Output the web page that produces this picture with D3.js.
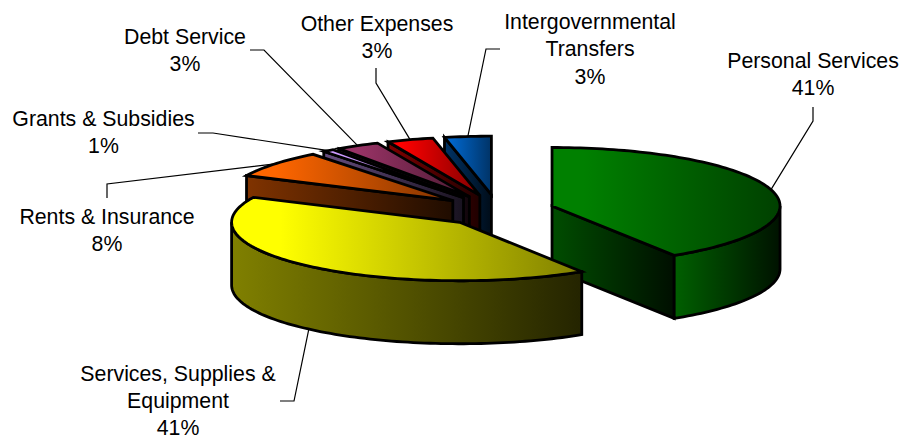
<!DOCTYPE html>
<html>
<head>
<meta charset="utf-8">
<script src="https://cdn.jsdelivr.net/npm/d3@7"></script>
<style>
  html, body { margin: 0; padding: 0; background: #fff; }
  text { font-family: "Liberation Sans", Arial, sans-serif; font-size: 21.3px; fill: #000; }
</style>
</head>
<body>
<div id="chart"></div>
<script>
const categories = ["Personal Services", "Services, Supplies & Equipment", "Rents & Insurance",
  "Grants & Subsidies", "Debt Service", "Other Expenses", "Intergovernmental Transfers"];
const shares = [41, 41, 7.5, 0.8, 3.1, 3.3, 3.3];
const baseColors = ["#008000", "#ffff00", "#ff6600", "#cc99ff", "#993366", "#ff0000", "#0066cc"];
const faceLight = [0.6, 0.5, 0.5, 0.5, 0.5, 0.5, 0.5];
const wallLight = [0.75, 0.5, 0.5, 0.5, 0.5, 0.5, 0.5];

// label layout, same order as categories: text lines, centre x, first baseline, leader elbow + end
const labelLines = [["Personal Services"], ["Services, Supplies &", "Equipment"], ["Rents & Insurance"],
  ["Grants & Subsidies"], ["Debt Service"], ["Other Expenses"], ["Intergovernmental", "Transfers"]];
const labelX = [813, 178, 107, 103.5, 185, 377, 590];
const labelY = [68, 380.5, 224, 125.5, 44, 30.5, 29];
const leaderElbow = [[813, 121], [294, 401], [107, 184], [213, 133], [264, 50], [376, 83], [486, 49]];
const leaderEnd = [[813, 107], [280, 401], [107, 198], [198, 133], [250, 50], [376, 68], [500, 49]];

const width = 902, height = 437;
const center = { x: 497.3, y: 210.4 };
const rx = 228, ry = 58.5, depth = 63, explodeX = 0.25, explodeY = 0.27, lineStep = 27.3;

const svg = d3.select("#chart").append("svg")
  .attr("width", width)
  .attr("height", height)
  .style("display", "block");
const defs = svg.append("defs");

const slices = d3.pie().sort(null).value(d => d)(shares)
  .map((s, i) => {
    const mid = (s.startAngle + s.endAngle) / 2;
    return {
      i, mid,
      start: s.startAngle,
      end: s.endAngle,
      cx: center.x + explodeX * rx * Math.sin(mid),
      cy: center.y - explodeY * ry * Math.cos(mid)
    };
  });

const rim = (s, a, drop = 0) => [s.cx + rx * Math.sin(a), s.cy - ry * Math.cos(a) + drop];
const arcPoints = (s, a0, a1, drop = 0) => {
  const n = Math.max(2, Math.ceil((a1 - a0) * 40));
  return d3.range(n + 1).map(k => rim(s, a0 + (a1 - a0) * k / n, drop));
};
const line = d3.line();

function gradient(id, from, to, hold) {
  const g = defs.append("linearGradient").attr("id", id)
    .attr("x1", 0).attr("x2", 1).attr("y1", 0).attr("y2", 0);
  g.append("stop").attr("offset", hold).attr("stop-color", from);
  g.append("stop").attr("offset", 1).attr("stop-color", to);
  return `url(#${id})`;
}
const shade = (c, k) => {
  const col = d3.rgb(c);
  return d3.rgb(col.r * k, col.g * k, col.b * k).formatHex();
};

// back slices first, front slices paint over them
const drawOrder = slices.slice().sort((a, b) => Math.cos(b.mid) - Math.cos(a.mid));

const pie = svg.append("g")
  .attr("stroke", "#000")
  .attr("stroke-width", 2.8)
  .attr("stroke-linejoin", "miter");

drawOrder.forEach(s => {
  const base = baseColors[s.i];
  const g = pie.append("g");
  const faceFill = gradient(`face${s.i}`, shade(base, faceLight[s.i]), shade(base, 0.12), 0);

  // cut faces that look towards the viewer
  [[s.start, Math.sin(s.start) < -1e-6], [s.end, Math.sin(s.end) > 1e-6]].forEach(([a, show]) => {
    if (!show) return;
    const p = rim(s, a);
    const q = rim(s, a, depth);
    g.append("path")
      .attr("d", line([[s.cx, s.cy], p, q, [s.cx, s.cy + depth]]) + "Z")
      .attr("fill", faceFill);
  });

  // outer wall, only the part between 90 and 270 degrees is visible
  const w0 = Math.max(s.start, Math.PI / 2);
  const w1 = Math.min(s.end, Math.PI * 1.5);
  if (w1 > w0) {
    const wall = arcPoints(s, w0, w1).concat(arcPoints(s, w0, w1, depth).reverse());
    g.append("path")
      .attr("d", line(wall) + "Z")
      .attr("fill", gradient(`wall${s.i}`, shade(base, wallLight[s.i]), shade(base, 0.14), 0));
  }

  // top face
  g.append("path")
    .attr("d", line([[s.cx, s.cy]].concat(arcPoints(s, s.start, s.end))) + "Z")
    .attr("fill", gradient(`top${s.i}`, base, shade(base, 0.5), 0.14));
});

// leader lines start on the rim at the middle of each slice
svg.append("g").selectAll("path")
  .data(slices)
  .join("path")
  .attr("d", s => line([
    rim(s, s.mid, Math.cos(s.mid) < 0 ? depth : 0),
    leaderElbow[s.i],
    leaderEnd[s.i]
  ]))
  .attr("fill", "none")
  .attr("stroke", "#000")
  .attr("stroke-width", 1.2);

const labels = svg.append("g").attr("text-anchor", "middle");
slices.forEach(s => {
  const lines = labelLines[s.i].concat(`${Math.round(shares[s.i])}%`);
  lines.forEach((t, k) => {
    labels.append("text")
      .attr("x", labelX[s.i])
      .attr("y", labelY[s.i] + k * lineStep)
      .text(t);
  });
});
</script>
</body>
</html>
